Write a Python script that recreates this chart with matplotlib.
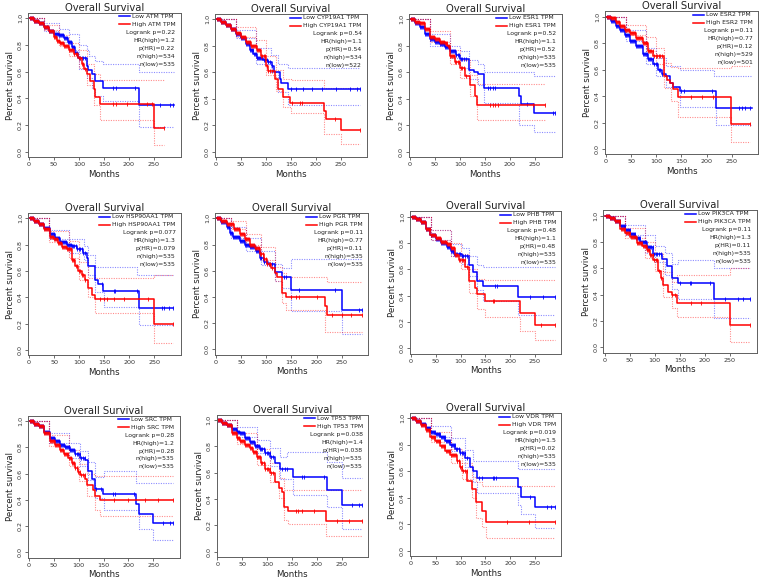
import numpy as np
import matplotlib
matplotlib.use("Agg")
import matplotlib.pyplot as plt

GENES = ["ATM", "CYP19A1", "ESR1", "ESR2", "HSP90AA1", "PGR", "PHB", "PIK3CA", "SRC", "TP53", "VDR"]
LOGRANK = ["0.22", "0.54", "0.52", "0.11", "0.077", "0.11", "0.48", "0.11", "0.28", "0.038", "0.019"]
HR_HIGH = ["1.2", "1.1", "1.1", "0.77", "1.3", "0.77", "1.1", "1.3", "1.2", "1.4", "1.5"]
P_HR = ["0.22", "0.54", "0.52", "0.12", "0.079", "0.11", "0.48", "0.11", "0.28", "0.038", "0.02"]
N_HIGH = [534, 534, 535, 529, 535, 535, 535, 535, 535, 535, 535]
N_LOW = [535, 522, 535, 501, 535, 535, 535, 535, 535, 535, 535]

# early censoring times (months), shared estimate of the dense tick marks
EARLY_CENSOR = [2, 4, 6, 8, 10, 12, 14, 16, 18, 20, 22, 24, 26, 28, 30, 32, 34, 36, 38, 40,
                42, 44, 46, 48, 50, 52, 54, 56, 58, 60, 62, 64, 66, 68, 70, 72, 74, 76, 78, 80,
                82, 84, 86, 88, 90, 93, 96, 99, 102, 105, 108, 112]

# ---- ATM
ATM_LOW = [(0,1),(10,0.98),(20,0.96),(30,0.93),(40,0.9),(50,0.88),(60,0.87),(70,0.85),(78,0.82),(85,0.78),(92,0.74),(98,0.70),(115,0.64),(118,0.61),(125,0.58),(132,0.53),(148,0.48),(220,0.35),(290,0.35)]
ATM_HIGH = [(0,1),(10,0.98),(20,0.96),(30,0.93),(40,0.9),(50,0.86),(55,0.83),(62,0.81),(70,0.79),(80,0.76),(90,0.73),(98,0.70),(105,0.66),(110,0.62),(116,0.58),(122,0.53),(130,0.47),(132,0.41),(142,0.36),(249,0.18),(270,0.18)]
ATM_LOW_UP = [(0,1),(30,0.96),(60,0.92),(80,0.88),(100,0.80),(115,0.76),(120,0.72),(132,0.68),(148,0.66),(220,0.60),(290,0.60)]
ATM_LOW_LO = [(0,1),(30,0.9),(60,0.82),(80,0.76),(100,0.62),(115,0.55),(125,0.48),(132,0.42),(148,0.38),(220,0.19),(290,0.19)]
ATM_HIGH_UP = [(0,1),(30,0.95),(60,0.87),(80,0.81),(100,0.76),(115,0.66),(130,0.58),(142,0.54),(270,0.54)]
ATM_HIGH_LO = [(0,1),(30,0.91),(60,0.79),(80,0.72),(100,0.63),(115,0.5),(130,0.35),(142,0.24),(249,0.05),(270,0.05)]
ATM_CENS_LOW = [168, 174, 211, 261, 281, 288]
ATM_CENS_HIGH = [168, 174, 195, 235, 245, 270]

# ---- CYP19A1
CYP_LOW = [(0,1),(10,0.98),(20,0.96),(30,0.93),(40,0.89),(50,0.86),(60,0.81),(68,0.77),(75,0.74),(82,0.71),(95,0.69),(105,0.68),(112,0.65),(116,0.60),(128,0.55),(131,0.52),(145,0.475),(289,0.475)]
CYP_HIGH = [(0,1),(10,0.98),(20,0.96),(30,0.93),(40,0.9),(50,0.87),(60,0.83),(70,0.80),(82,0.77),(90,0.72),(100,0.65),(105,0.61),(118,0.55),(125,0.47),(135,0.41),(148,0.37),(217,0.31),(220,0.25),(250,0.165),(289,0.165)]
CYP_LOW_UP = [(0,1),(40,0.92),(80,0.78),(110,0.73),(125,0.66),(145,0.63),(289,0.63)]
CYP_LOW_LO = [(0,1),(40,0.86),(80,0.66),(110,0.6),(125,0.45),(145,0.355),(289,0.355)]
CYP_HIGH_UP = [(0,1),(40,0.94),(80,0.84),(100,0.72),(120,0.62),(135,0.55),(150,0.54),(217,0.48),(289,0.48)]
CYP_HIGH_LO = [(0,1),(40,0.87),(80,0.7),(100,0.58),(120,0.46),(135,0.34),(150,0.29),(217,0.13),(250,0.055),(289,0.055)]
CYP_CENS_LOW = [150, 160, 175, 193, 213, 240, 268, 282, 289]
CYP_CENS_HIGH = [152, 168, 172, 239, 289]

# ---- ESR1
ESR1_LOW = [(0,1),(10,0.97),(20,0.94),(30,0.89),(40,0.85),(50,0.83),(60,0.81),(70,0.79),(80,0.76),(93,0.73),(100,0.70),(117,0.62),(128,0.6),(135,0.585),(148,0.48),(217,0.42),(222,0.36),(248,0.29),(290,0.29)]
ESR1_HIGH = [(0,1),(10,0.98),(20,0.97),(30,0.93),(40,0.87),(50,0.85),(60,0.83),(70,0.82),(75,0.80),(80,0.72),(90,0.68),(100,0.63),(110,0.57),(120,0.50),(130,0.42),(133,0.35),(270,0.35)]
ESR1_LOW_UP = [(0,1),(40,0.89),(80,0.8),(100,0.76),(117,0.69),(135,0.66),(148,0.6),(248,0.57),(290,0.57)]
ESR1_LOW_LO = [(0,1),(40,0.8),(80,0.71),(100,0.63),(117,0.55),(135,0.5),(148,0.37),(218,0.2),(248,0.15),(290,0.15)]
ESR1_HIGH_UP = [(0,1),(40,0.91),(80,0.77),(100,0.69),(120,0.58),(133,0.51),(270,0.51)]
ESR1_HIGH_LO = [(0,1),(40,0.83),(80,0.66),(100,0.56),(120,0.42),(133,0.24),(270,0.24)]
ESR1_CENS_LOW = [155, 160, 165, 170, 233, 285, 290]
ESR1_CENS_HIGH = [160, 165, 170, 175, 245, 270]

# ---- ESR2
ESR2_LOW = [(0,1),(10,0.97),(20,0.93),(28,0.9),(38,0.86),(48,0.82),(60,0.78),(74,0.72),(84,0.68),(94,0.64),(104,0.6),(112,0.57),(120,0.55),(127,0.5),(134,0.47),(147,0.44),(218,0.31),(290,0.31)]
ESR2_HIGH = [(0,1),(10,0.99),(20,0.96),(28,0.93),(38,0.9),(48,0.88),(60,0.84),(74,0.8),(84,0.74),(94,0.70),(116,0.55),(122,0.52),(127,0.5),(134,0.45),(144,0.39),(249,0.19),(287,0.19)]
ESR2_LOW_UP = [(0,1),(40,0.9),(80,0.76),(100,0.69),(120,0.63),(147,0.6),(215,0.55),(290,0.55)]
ESR2_LOW_LO = [(0,1),(40,0.82),(80,0.64),(100,0.55),(120,0.47),(147,0.32),(218,0.18),(290,0.18)]
ESR2_HIGH_UP = [(0,1),(40,0.94),(80,0.85),(100,0.76),(116,0.65),(130,0.62),(144,0.61),(249,0.63),(287,0.63)]
ESR2_HIGH_LO = [(0,1),(40,0.86),(80,0.74),(100,0.64),(116,0.46),(130,0.36),(144,0.24),(249,0.05),(287,0.05)]
ESR2_CENS_LOW = [150, 155, 210, 265, 270, 276, 287]
ESR2_CENS_HIGH = [170, 190, 213, 287]

# ---- HSP90AA1
HSP_LOW = [(0,1),(10,0.98),(20,0.96),(30,0.93),(42,0.88),(52,0.85),(62,0.82),(75,0.80),(85,0.79),(95,0.77),(108,0.74),(115,0.70),(117,0.64),(128,0.64),(132,0.53),(138,0.5),(148,0.45),(220,0.32),(288,0.32)]
HSP_HIGH = [(0,1),(10,0.98),(20,0.96),(30,0.92),(42,0.86),(50,0.84),(58,0.81),(65,0.78),(75,0.77),(85,0.68),(92,0.64),(98,0.60),(105,0.57),(112,0.53),(118,0.47),(125,0.42),(132,0.39),(249,0.2),(288,0.2)]
HSP_LOW_UP = [(0,1),(40,0.91),(80,0.84),(110,0.79),(117,0.72),(132,0.63),(215,0.57),(288,0.57)]
HSP_LOW_LO = [(0,1),(40,0.84),(80,0.74),(110,0.68),(117,0.57),(132,0.44),(150,0.33),(220,0.19),(288,0.19)]
HSP_HIGH_UP = [(0,1),(40,0.9),(80,0.83),(100,0.67),(118,0.55),(249,0.57),(288,0.57)]
HSP_HIGH_LO = [(0,1),(40,0.82),(80,0.7),(100,0.53),(118,0.4),(132,0.28),(249,0.05),(288,0.05)]
HSP_CENS_LOW = [145, 170, 172, 215, 265, 270, 280, 288]
HSP_CENS_HIGH = [142, 150, 155, 170, 190, 237, 288]

# ---- PGR
PGR_LOW = [(0,1),(10,0.97),(21,0.93),(28,0.89),(34,0.86),(48,0.83),(58,0.80),(68,0.78),(80,0.75),(88,0.70),(96,0.67),(104,0.65),(117,0.59),(131,0.55),(150,0.45),(250,0.30),(290,0.30)]
PGR_HIGH = [(0,1),(10,0.98),(21,0.96),(35,0.92),(48,0.88),(58,0.84),(68,0.80),(78,0.77),(88,0.73),(95,0.69),(101,0.65),(110,0.62),(117,0.58),(122,0.55),(131,0.43),(140,0.40),(217,0.33),(220,0.265),(290,0.265)]
PGR_LOW_UP = [(0,1),(30,0.93),(60,0.85),(90,0.75),(117,0.65),(131,0.62),(150,0.69),(290,0.69)]
PGR_LOW_LO = [(0,1),(30,0.85),(60,0.75),(90,0.64),(117,0.52),(131,0.47),(150,0.29),(250,0.12),(290,0.12)]
PGR_HIGH_UP = [(0,1),(30,0.98),(60,0.88),(90,0.78),(117,0.63),(131,0.58),(140,0.55),(220,0.51),(290,0.51)]
PGR_HIGH_LO = [(0,1),(30,0.92),(60,0.8),(90,0.68),(117,0.52),(131,0.35),(140,0.3),(217,0.13),(290,0.13)]
PGR_CENS_LOW = [118, 135, 140, 165, 237, 285, 290]
PGR_CENS_HIGH = [150, 160, 165, 200, 230, 250, 268, 290]

# ---- PHB
PHB_LOW = [(0,1),(10,0.98),(20,0.96),(30,0.91),(39,0.86),(50,0.83),(60,0.80),(72,0.77),(80,0.74),(86,0.72),(102,0.70),(116,0.63),(126,0.58),(133,0.51),(146,0.475),(216,0.39),(290,0.39)]
PHB_HIGH = [(0,1),(10,0.98),(20,0.96),(30,0.91),(39,0.86),(50,0.84),(60,0.81),(72,0.79),(80,0.76),(88,0.71),(96,0.67),(109,0.62),(116,0.51),(129,0.46),(133,0.41),(149,0.36),(220,0.27),(250,0.18),(290,0.18)]
PHB_LOW_UP = [(0,1),(40,0.9),(80,0.79),(102,0.76),(116,0.7),(133,0.63),(146,0.62),(290,0.62)]
PHB_LOW_LO = [(0,1),(40,0.82),(80,0.7),(102,0.64),(116,0.55),(133,0.44),(146,0.36),(216,0.25),(290,0.25)]
PHB_HIGH_UP = [(0,1),(40,0.9),(80,0.8),(100,0.72),(116,0.6),(133,0.53),(149,0.52),(290,0.52)]
PHB_HIGH_LO = [(0,1),(40,0.82),(80,0.7),(100,0.6),(116,0.42),(133,0.3),(149,0.24),(220,0.13),(250,0.06),(290,0.06)]
PHB_CENS_LOW = [170, 173, 240, 267, 290]
PHB_CENS_HIGH = [165, 168, 262, 290]

# ---- PIK3CA
PIK_LOW = [(0,1),(10,0.98),(20,0.96),(31,0.92),(41,0.89),(51,0.86),(61,0.83),(71,0.80),(84,0.76),(97,0.71),(114,0.67),(124,0.62),(134,0.53),(147,0.49),(218,0.37),(290,0.37)]
PIK_HIGH = [(0,1),(10,0.98),(20,0.96),(31,0.9),(41,0.87),(51,0.84),(64,0.79),(75,0.77),(84,0.74),(90,0.70),(97,0.66),(107,0.58),(112,0.53),(117,0.47),(127,0.42),(134,0.40),(144,0.34),(250,0.17),(290,0.17)]
PIK_LOW_UP = [(0,1),(40,0.93),(80,0.85),(100,0.77),(120,0.72),(134,0.63),(147,0.66),(218,0.6),(290,0.6)]
PIK_LOW_LO = [(0,1),(40,0.85),(80,0.72),(100,0.65),(120,0.55),(134,0.44),(147,0.37),(218,0.22),(290,0.22)]
PIK_HIGH_UP = [(0,1),(40,0.91),(80,0.8),(100,0.72),(117,0.57),(134,0.5),(144,0.55),(250,0.6),(290,0.6)]
PIK_HIGH_LO = [(0,1),(40,0.83),(80,0.68),(100,0.58),(117,0.38),(134,0.3),(144,0.23),(250,0.04),(290,0.04)]
PIK_CENS_LOW = [150, 170, 172, 210, 240, 265, 275, 290]
PIK_CENS_HIGH = [135, 140, 173, 192, 290]

# ---- SRC
SRC_LOW = [(0,1),(10,0.98),(20,0.96),(30,0.92),(42,0.87),(52,0.85),(62,0.82),(72,0.80),(82,0.78),(92,0.75),(103,0.72),(113,0.70),(119,0.62),(126,0.56),(133,0.485),(149,0.445),(216,0.37),(222,0.295),(250,0.22),(290,0.22)]
SRC_HIGH = [(0,1),(10,0.98),(20,0.96),(30,0.91),(42,0.85),(52,0.82),(62,0.78),(70,0.75),(79,0.72),(86,0.68),(92,0.64),(98,0.61),(103,0.59),(113,0.56),(116,0.51),(129,0.475),(133,0.43),(143,0.40),(290,0.40)]
SRC_LOW_UP = [(0,1),(40,0.91),(80,0.83),(103,0.77),(119,0.69),(133,0.57),(150,0.62),(216,0.53),(290,0.53)]
SRC_LOW_LO = [(0,1),(40,0.83),(80,0.72),(103,0.66),(119,0.55),(133,0.41),(150,0.32),(222,0.18),(250,0.09),(290,0.09)]
SRC_HIGH_UP = [(0,1),(40,0.89),(80,0.78),(100,0.67),(116,0.6),(133,0.58),(290,0.58)]
SRC_HIGH_LO = [(0,1),(40,0.81),(80,0.66),(100,0.54),(116,0.43),(133,0.32),(143,0.28),(290,0.28)]
SRC_CENS_LOW = [135, 145, 168, 172, 212, 270, 283, 290]
SRC_CENS_HIGH = [170, 200, 233, 260, 290]

# ---- TP53
TP53_LOW = [(0,1),(10,0.98),(20,0.96),(30,0.93),(40,0.91),(46,0.90),(56,0.86),(66,0.83),(76,0.80),(86,0.78),(96,0.75),(106,0.72),(116,0.67),(126,0.63),(151,0.565),(221,0.47),(251,0.355),(290,0.355)]
TP53_HIGH = [(0,1),(10,0.98),(20,0.96),(30,0.9),(40,0.86),(46,0.84),(56,0.81),(66,0.79),(72,0.76),(79,0.72),(88,0.67),(96,0.63),(106,0.60),(116,0.53),(123,0.48),(129,0.45),(133,0.34),(141,0.31),(218,0.23),(290,0.23)]
TP53_LOW_UP = [(0,1),(40,0.95),(80,0.85),(106,0.79),(126,0.72),(140,0.76),(221,0.68),(251,0.56),(290,0.56)]
TP53_LOW_LO = [(0,1),(40,0.87),(80,0.75),(106,0.65),(126,0.55),(151,0.43),(221,0.34),(251,0.17),(290,0.17)]
TP53_HIGH_UP = [(0,1),(40,0.9),(80,0.78),(106,0.67),(123,0.56),(133,0.47),(290,0.47)]
TP53_HIGH_LO = [(0,1),(40,0.82),(80,0.66),(106,0.53),(123,0.41),(133,0.24),(141,0.21),(218,0.12),(290,0.12)]
TP53_CENS_LOW = [130, 135, 140, 170, 175, 215, 270, 285, 290]
TP53_CENS_HIGH = [158, 163, 170, 195, 240, 265, 290]

# ---- VDR
VDR_LOW = [(0,1),(10,0.98),(20,0.96),(30,0.93),(39,0.9),(49,0.88),(59,0.86),(69,0.83),(79,0.80),(89,0.77),(99,0.74),(109,0.70),(119,0.63),(126,0.6),(134,0.55),(216,0.48),(222,0.41),(250,0.33),(290,0.33)]
VDR_HIGH = [(0,1),(10,0.98),(20,0.95),(30,0.91),(39,0.86),(49,0.83),(59,0.79),(69,0.75),(79,0.72),(92,0.68),(98,0.63),(103,0.6),(113,0.53),(123,0.47),(131,0.37),(143,0.3),(151,0.22),(290,0.22)]
VDR_LOW_UP = [(0,1),(40,0.94),(80,0.85),(109,0.76),(126,0.68),(216,0.62),(290,0.62)]
VDR_LOW_LO = [(0,1),(40,0.86),(80,0.75),(109,0.63),(126,0.52),(134,0.44),(216,0.35),(222,0.28),(250,0.17),(290,0.17)]
VDR_HIGH_UP = [(0,1),(40,0.9),(80,0.77),(103,0.66),(123,0.56),(131,0.52),(143,0.49),(290,0.49)]
VDR_HIGH_LO = [(0,1),(40,0.82),(80,0.66),(103,0.54),(123,0.4),(131,0.25),(143,0.18),(151,0.1),(290,0.1)]
VDR_CENS_LOW = [138, 143, 165, 168, 172, 240, 275, 283, 290]
VDR_CENS_HIGH = [193, 238, 290]

PANELS = [
    (ATM_LOW, ATM_HIGH, ATM_LOW_UP, ATM_LOW_LO, ATM_HIGH_UP, ATM_HIGH_LO, ATM_CENS_LOW, ATM_CENS_HIGH),
    (CYP_LOW, CYP_HIGH, CYP_LOW_UP, CYP_LOW_LO, CYP_HIGH_UP, CYP_HIGH_LO, CYP_CENS_LOW, CYP_CENS_HIGH),
    (ESR1_LOW, ESR1_HIGH, ESR1_LOW_UP, ESR1_LOW_LO, ESR1_HIGH_UP, ESR1_HIGH_LO, ESR1_CENS_LOW, ESR1_CENS_HIGH),
    (ESR2_LOW, ESR2_HIGH, ESR2_LOW_UP, ESR2_LOW_LO, ESR2_HIGH_UP, ESR2_HIGH_LO, ESR2_CENS_LOW, ESR2_CENS_HIGH),
    (HSP_LOW, HSP_HIGH, HSP_LOW_UP, HSP_LOW_LO, HSP_HIGH_UP, HSP_HIGH_LO, HSP_CENS_LOW, HSP_CENS_HIGH),
    (PGR_LOW, PGR_HIGH, PGR_LOW_UP, PGR_LOW_LO, PGR_HIGH_UP, PGR_HIGH_LO, PGR_CENS_LOW, PGR_CENS_HIGH),
    (PHB_LOW, PHB_HIGH, PHB_LOW_UP, PHB_LOW_LO, PHB_HIGH_UP, PHB_HIGH_LO, PHB_CENS_LOW, PHB_CENS_HIGH),
    (PIK_LOW, PIK_HIGH, PIK_LOW_UP, PIK_LOW_LO, PIK_HIGH_UP, PIK_HIGH_LO, PIK_CENS_LOW, PIK_CENS_HIGH),
    (SRC_LOW, SRC_HIGH, SRC_LOW_UP, SRC_LOW_LO, SRC_HIGH_UP, SRC_HIGH_LO, SRC_CENS_LOW, SRC_CENS_HIGH),
    (TP53_LOW, TP53_HIGH, TP53_LOW_UP, TP53_LOW_LO, TP53_HIGH_UP, TP53_HIGH_LO, TP53_CENS_LOW, TP53_CENS_HIGH),
    (VDR_LOW, VDR_HIGH, VDR_LOW_UP, VDR_LOW_LO, VDR_HIGH_UP, VDR_HIGH_LO, VDR_CENS_LOW, VDR_CENS_HIGH),
]

# layout: pixel of x=0 tick, x=250 tick, y=1.0 tick, y=0.0 tick (figure pixels, top origin)
LAYOUT = [
    (29, 154, 18, 152), (216, 340.7, 19.3, 151.7), (410, 535, 19.3, 151.7), (606, 731.7, 16.7, 149),
    (29, 154.3, 218.3, 350), (216, 341.7, 218.3, 349.3), (411, 535, 216.7, 348.3), (604.5, 730, 215.7, 347.3),
    (29, 153.3, 421, 552.3), (217.5, 341.7, 420, 551.7), (411, 535, 418.3, 551),
]

W, H = 760, 585
XLIM = (-2, 303)
YLIM = (-0.04, 1.04)
BLUE = "#0000FF"
RED = "#FF0000"

fig = plt.figure(figsize=(W / 100, H / 100), dpi=100)
fig.patch.set_facecolor("white")


def step_at(curve, t):
    ts = np.array([p[0] for p in curve])
    ss = np.array([p[1] for p in curve])
    idx = np.searchsorted(ts, t, side="right") - 1
    return ss[np.clip(idx, 0, len(ss) - 1)]


axes_list = []
high_texts = []
for i, (gene, lay, pan) in enumerate(zip(GENES, LAYOUT, PANELS)):
    p0, p250, y1, y0 = lay
    s = (p250 - p0) / 250.0
    L = p0 + XLIM[0] * s
    R = p0 + XLIM[1] * s
    sy = y0 - y1
    T = y1 - (YLIM[1] - 1) * sy
    B = y0 - YLIM[0] * sy
    ax = fig.add_axes([L / W, 1 - B / H, (R - L) / W, (B - T) / H])
    axes_list.append(ax)
    low, high, lup, llo, hup, hlo, cl, ch = pan

    for band, col in ((lup, BLUE), (llo, BLUE), (hup, RED), (hlo, RED)):
        ax.plot([p[0] for p in band], [p[1] for p in band], drawstyle="steps-post",
                color=col, lw=0.8, ls=(0, (1, 1.2)), alpha=0.45)
    for curve, col, cens in ((low, BLUE, cl), (high, RED, ch)):
        ax.plot([p[0] for p in curve], [p[1] for p in curve], drawstyle="steps-post",
                color=col, lw=1.1)
        tmax = curve[-1][0]
        ct = [t for t in EARLY_CENSOR if t < tmax] + list(cens)
        ax.plot(ct, step_at(curve, np.array(ct)), ls="none", marker="|", ms=3.2,
                mew=0.6, color=col)

    ax.set_xlim(*XLIM)
    ax.set_ylim(*YLIM)
    ax.set_xticks([0, 50, 100, 150, 200, 250])
    ax.set_yticks([0.0, 0.2, 0.4, 0.6, 0.8, 1.0])
    ax.set_yticklabels(["0.0", "0.2", "0.4", "0.6", "0.8", "1.0"], rotation=90, va="center")
    ax.tick_params(labelsize=4.6, length=2.2, width=0.5, pad=1.5, colors="#333333")
    for sp in ax.spines.values():
        sp.set_color("#606060")
        sp.set_linewidth(0.7)
    ax.set_title("Overall Survival", fontsize=7.2, pad=1.5, color="#222222")
    ax.set_xlabel("Months", fontsize=6.2, labelpad=2, color="#222222")
    ax.set_ylabel("Percent survival", fontsize=6.2, labelpad=2, color="#222222")

    xr = 0.965
    y_top = 0.975
    dy = 0.056
    stats = ["Logrank p=" + LOGRANK[i], "HR(high)=" + HR_HIGH[i], "p(HR)=" + P_HR[i],
             "n(high)=" + str(N_HIGH[i]), "n(low)=" + str(N_LOW[i])]
    ht = ax.text(xr, y_top - dy, "High " + gene + " TPM", transform=ax.transAxes,
                 ha="right", va="center", fontsize=4.4, color="#222222")
    high_texts.append(ht)
    for k, st in enumerate(stats):
        ax.text(xr, y_top - dy * (k + 2), st, transform=ax.transAxes, ha="right",
                va="center", fontsize=4.4, color="#222222")

fig.canvas.draw()
renderer = fig.canvas.get_renderer()
for i, (ax, ht) in enumerate(zip(axes_list, high_texts)):
    bb = ht.get_window_extent(renderer)
    inv = ax.transAxes.inverted()
    xl = inv.transform((bb.x0, bb.y0))[0]
    xl_line0 = inv.transform((bb.x0 - 13, bb.y0))[0]
    xl_line1 = inv.transform((bb.x0 - 2, bb.y0))[0]
    y_top = 0.975
    dy = 0.056
    ax.text(xl, y_top, "Low " + GENES[i] + " TPM", transform=ax.transAxes,
            ha="left", va="center", fontsize=4.4, color="#222222")
    ax.plot([xl_line0, xl_line1], [y_top, y_top], transform=ax.transAxes, color=BLUE,
            lw=1.1, clip_on=False)
    ax.plot([xl_line0, xl_line1], [y_top - dy, y_top - dy], transform=ax.transAxes,
            color=RED, lw=1.1, clip_on=False)

fig.savefig("out.png", dpi=100, facecolor="white")
